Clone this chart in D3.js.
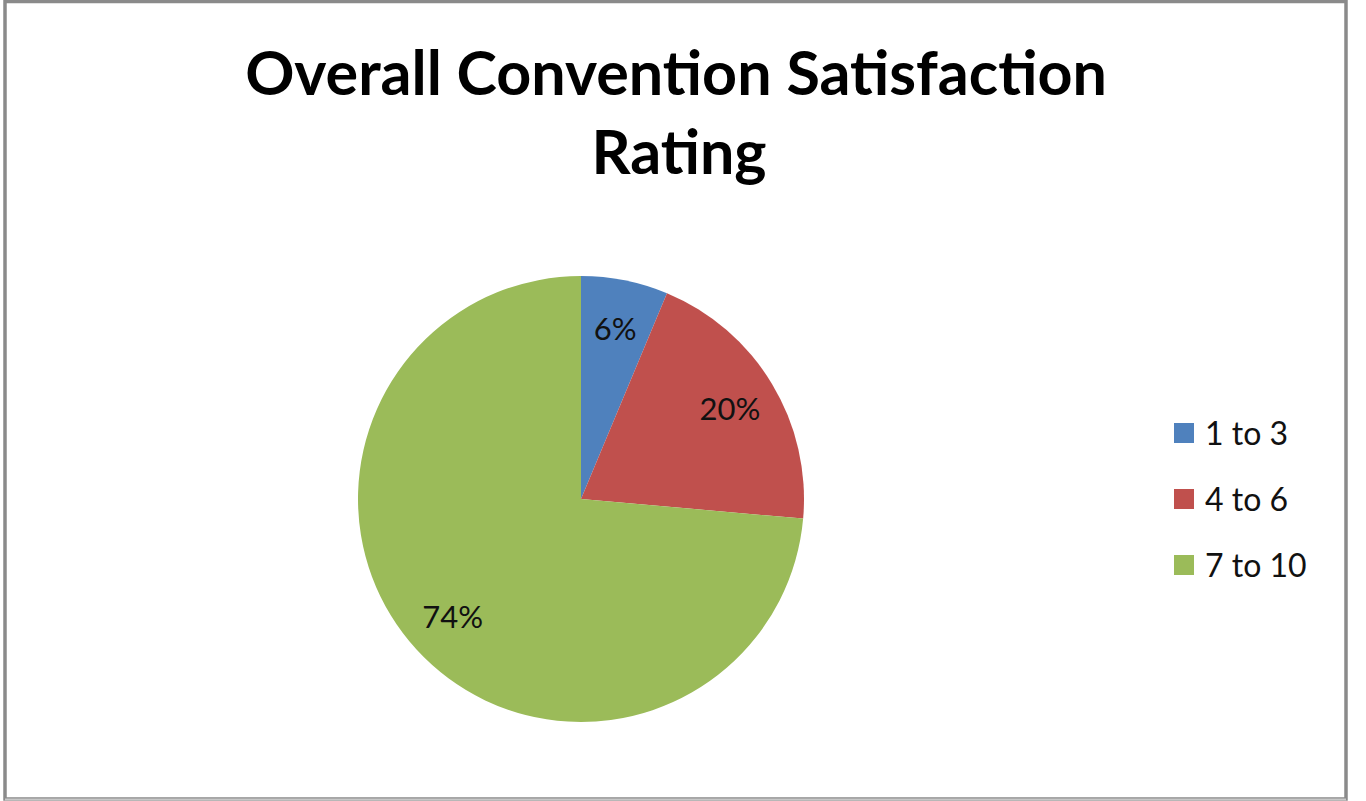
<!DOCTYPE html>
<html>
<head>
<meta charset="utf-8">
<script src="https://cdn.jsdelivr.net/npm/d3@7"></script>
<style>
  html, body { margin: 0; padding: 0; background: #fff; }
  svg { display: block; }
</style>
</head>
<body>
<svg id="chart" width="1366" height="801"></svg>
<script>
const titleLines = ["Overall Convention Satisfaction", "Rating"];
const categories = ["1 to 3", "4 to 6", "7 to 10"];
const values = [6.3, 20.1, 73.6];
const colors = ["#4F81BD", "#C0504D", "#9BBB59"];

const svg = d3.select("#chart");
const W = 1366, H = 801;
const font = "Lato, 'Open Sans', sans-serif";

svg.append("rect").attr("width", W).attr("height", H).attr("fill", "#fff");
// frame
svg.append("rect")
  .attr("x", 5).attr("y", 1.5).attr("width", 1341).attr("height", 797.5)
  .attr("fill", "none").attr("stroke", "#8a8a8a").attr("stroke-width", 3.5);
svg.append("line").attr("x1", 5).attr("x2", 1346).attr("y1", 799.5).attr("y2", 799.5)
  .attr("stroke", "#c8c8c8").attr("stroke-width", 2);

// title
const title = svg.append("g");
const t1 = title.append("text")
  .attr("x", 676).attr("y", 95).attr("text-anchor", "middle")
  .attr("font-family", font).attr("font-weight", 700).attr("font-size", 60)
  .attr("fill", "#000").text(titleLines[0]);
const len = t1.node().getComputedTextLength();
const fs = 60 * 862 / len;
t1.attr("font-size", fs);
title.append("text")
  .attr("x", 679).attr("y", 174).attr("text-anchor", "middle")
  .attr("font-family", font).attr("font-weight", 700).attr("font-size", fs)
  .attr("fill", "#000").text(titleLines[1]);

// pie
const cx = 581, cy = 499, R = 223;
const total = d3.sum(values);
const pie = d3.pie().sort(null).value(d => d)(values);
const arc = d3.arc().innerRadius(0).outerRadius(R);
const labelArc = d3.arc().innerRadius(174).outerRadius(174);
const g = svg.append("g").attr("transform", `translate(${cx},${cy})`);
g.selectAll("path").data(pie).join("path")
  .attr("d", arc).attr("fill", (d, i) => colors[i]);
g.selectAll("text").data(pie).join("text")
  .attr("transform", d => `translate(${labelArc.centroid(d)})`)
  .attr("text-anchor", "middle").attr("dy", "0.36em")
  .attr("font-family", font).attr("font-size", 31).attr("fill", "#111")
  .text(d => Math.round(d.value / total * 100) + "%");

// legend
const lg = svg.append("g");
const rowY = d3.scalePoint().domain(categories).range([433, 565]);
categories.forEach((c, i) => {
  const y = rowY(c);
  lg.append("rect").attr("x", 1174).attr("y", y - 10).attr("width", 20).attr("height", 20)
    .attr("fill", colors[i]);
  lg.append("text").attr("x", 1205).attr("y", y).attr("dy", "0.36em")
    .attr("font-family", font).attr("font-size", 32).attr("fill", "#111").text(c);
});
</script>
</body>
</html>
